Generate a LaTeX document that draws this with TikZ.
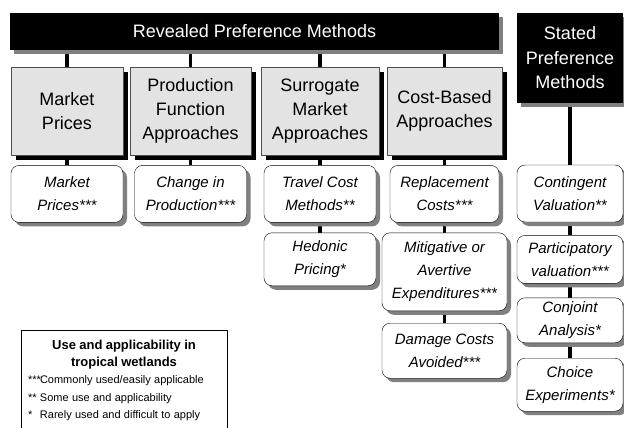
\documentclass[tikz,border=0pt]{standalone}
\usepackage{fontspec}
\setmainfont{Liberation Sans}
\usetikzlibrary{positioning, shadows, backgrounds}

\begin{document}
\begin{tikzpicture}[x=1pt, y=-1pt]
        \tikzstyle{head}=[fill=black, text=white, align=center, inner sep=2pt, font=\fontsize{18}{24.5}\selectfont, drop shadow={shadow xshift=4pt, shadow yshift=-4pt, fill=black!50, opacity=1}];
        \tikzstyle{group}=[draw=black!70, fill=black!11, align=center, inner sep=2pt, minimum height=88pt, font=\fontsize{18}{24}\selectfont, drop shadow={shadow xshift=5pt, shadow yshift=-5pt, fill=black, opacity=1}];
        \tikzstyle{method}=[draw, fill=white, rounded corners=8pt, align=center, inner sep=2pt, font=\fontsize{15}{23}\selectfont\itshape, drop shadow={shadow xshift=4pt, shadow yshift=-4pt, fill=black!50, opacity=1}];
        \tikzstyle{conn}=[line width=3.5pt];
        \useasboundingbox (0,0) rectangle (624,428);

        \node[head, minimum width=489pt, minimum height=37pt] (rp) at (254.5,31.5) {Revealed Preference Methods};
        \node[head, minimum width=106pt, minimum height=90pt] (sp) at (570,58) {Stated\\Preference\\Methods};

        \node[group, minimum width=112pt] (mp) at (67,111) {Market\\Prices};
        \node[group, minimum width=121pt] (pf) at (190.5,111) {Production\\Function\\Approaches};
        \node[group, minimum width=118pt] (sm) at (320,111) {Surrogate\\Market\\Approaches};
        \node[group, minimum width=115pt] (cb) at (444.5,111) {Cost-Based\\Approaches};

        \node[method, minimum width=112pt, minimum height=57pt, below=10pt of mp] (mpr) {Market\\Prices***};
        \node[method, minimum width=112pt, minimum height=57pt, below=10pt of pf] (cip) {Change in\\Production***};
        \node[method, minimum width=112pt, minimum height=57pt, below=10pt of sm] (tcm) {Travel Cost\\Methods**};
        \node[method, minimum width=109pt, minimum height=57pt, below=10pt of cb] (rc) {Replacement\\Costs***};
        \node[method, minimum width=106pt, minimum height=57pt] (cv) at (570,193.5) {Contingent\\Valuation**};

        \node[method, minimum width=112pt, minimum height=53pt, below=10pt of tcm] (hp) {Hedonic\\Pricing*};
        \node[method, minimum width=125pt, minimum height=78pt, below=10pt of rc] (mae) {Mitigative or\\Avertive\\Expenditures***};
        \node[method, minimum width=106pt, minimum height=48pt, below=13pt of cv] (pv) {Participatory\\valuation***};
        \node[method, minimum width=125pt, minimum height=55pt, below=12pt of mae] (dca) {Damage Costs\\Avoided***};
        \node[method, minimum width=106pt, minimum height=45pt, below=14pt of pv] (ca) {Conjoint\\Analysis*};
        \node[method, minimum width=106pt, minimum height=53pt, below=15pt of ca] (ce) {Choice\\Experiments*};

        \node[draw, anchor=north, minimum width=206pt, minimum height=100pt, text width=192pt, inner sep=7pt] (key) at (124,330) {%
          {\centering\fontsize{13}{17}\selectfont\bfseries Use and applicability in\\tropical wetlands\par}
          {\fontsize{11}{17.5}\selectfont
          \makebox[12pt][l]{***}Commonly used/easily applicable\\
          \makebox[12pt][l]{**}Some use and applicability\\
          \makebox[12pt][l]{*}Rarely used and difficult to apply\par}};

        \begin{scope}[on background layer]
        \path[conn]
        (rp.south -| mp.north) edge (mp.north)
        (rp.south -| pf.north) edge (pf.north)
        (rp.south -| sm.north) edge (sm.north)
        (rp.south -| cb.north) edge (cb.north)
        (mp) edge (mpr)
        (pf) edge (cip)
        (sm) edge (tcm)
        (cb) edge (rc)
        (sp) edge (cv)
        (tcm) edge (hp)
        (rc) edge (mae)
        (mae) edge (dca)
        (cv) edge (pv)
        (pv) edge (ca)
        (ca) edge (ce);
        \end{scope}
      \end{tikzpicture}
\end{document}
